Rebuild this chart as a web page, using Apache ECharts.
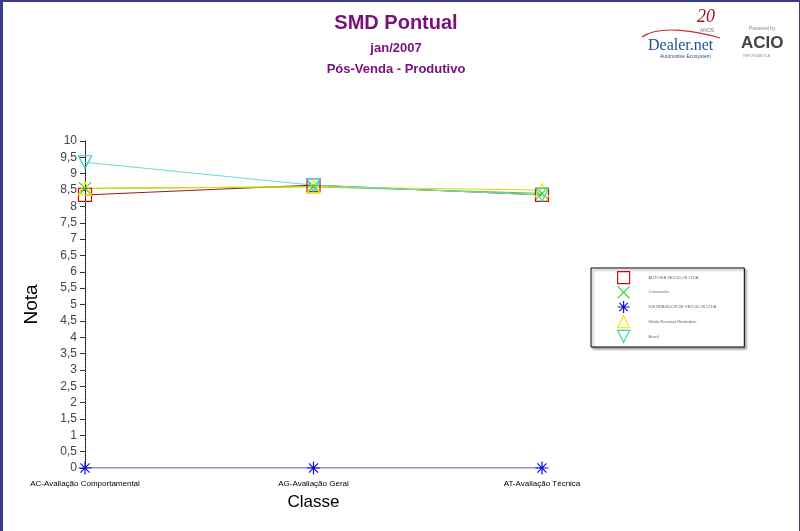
<!DOCTYPE html>
<html><head><meta charset="utf-8">
<script src="https://cdn.jsdelivr.net/npm/echarts@6/dist/echarts.min.js"></script>
<style>
html,body{margin:0;padding:0;background:#fff;}
#c{position:absolute;left:0;top:0;width:796px;height:529px;border-left:3px solid #3c3c8c;border-top:2px solid #3c3c8c;border-right:1px solid #3c3c8c;}
</style></head><body><div id="c"></div>
<script>
const categories = ['AC-Avaliação Comportamental', 'AG-Avaliação Geral', 'AT-Avaliação Técnica'];
const seriesNames = ['AUTOVIA VEÍCULOS LTDA', 'Concessão', 'DISTRIBUIDOR DE VEÍCULOS LTDA', 'Média Nacional Montadora', 'Brasil'];
const redValues = [8.35, 8.65, 8.35];
const greenValues = [8.55, 8.6, 8.4];
const blueValues = [0, 0, 0];
const yellowValues = [8.55, 8.6, 8.5];
const cyanValues = [9.35, 8.65, 8.35];

const chart = echarts.init(document.getElementById('c'), null, {renderer: 'canvas'});
const P_X = 'path://M0,0L10,10M10,0L0,10';
const P_STAR = 'path://M5,0L5,10M0,5L10,5M1.5,1.5L8.5,8.5M8.5,1.5L1.5,8.5';
const P_TRI = 'path://M5,0L10,10L0,10Z';
const P_ITRI = 'path://M0,0L10,0L5,10Z';
const symbols = ['rect', P_X, P_STAR, P_TRI, P_ITRI];
const markColors = ['#c01010', '#33cc33', '#1010dd', '#eeee00', '#33cccc'];
function mk(i, data, lineColor, size){
  return {name:seriesNames[i], type:'line', data, symbol:symbols[i], symbolSize:size, showSymbol:true,
    lineStyle:{color:lineColor, width:1}, itemStyle:{color:'rgba(0,0,0,0)', borderColor:markColors[i], borderWidth:1.2},
    emphasis:{disabled:true}, animation:false};
}
chart.setOption({
  backgroundColor:'#fff',
  animation:false,
  title:[
    {text:'SMD Pontual', left:388, top:6, textAlign:'center', textStyle:{color:'#7b0f7b', fontSize:20, fontWeight:'bold', fontFamily:'Liberation Sans, Arial'}},
    {text:'jan/2007', left:388, top:35, textAlign:'center', textStyle:{color:'#7b0f7b', fontSize:13, fontWeight:'bold', fontFamily:'Liberation Sans, Arial'}},
    {text:'Pós-Venda - Produtivo', left:388, top:56, textAlign:'center', textStyle:{color:'#7b0f7b', fontSize:13, fontWeight:'bold', fontFamily:'Liberation Sans, Arial'}}
  ],
  legend:{
    orient:'vertical', left:588, top:266,
    padding:[3,28,4,26], itemGap:1.5, itemWidth:12, itemHeight:12,
    backgroundColor:'#fff', borderColor:'#000', borderWidth:1,
    shadowColor:'rgba(0,0,0,0.35)', shadowOffsetX:2, shadowOffsetY:2, shadowBlur:2,
    textStyle:{fontSize:4, color:'#666', padding:[0,0,0,14], fontFamily:'Liberation Sans, Arial'},
    data: seriesNames.map((n,i)=>({name:n, icon:symbols[i], itemStyle:{color:'rgba(0,0,0,0)', borderColor:markColors[i], borderWidth:1.2}})),
    selectedMode:false
  },
  grid:{left:82, right:257, top:139, bottom:63, containLabel:false},
  xAxis:{
    type:'category', data:categories, boundaryGap:false,
    name:'Classe', nameLocation:'middle', nameGap:26,
    nameTextStyle:{fontSize:17, color:'#000', fontFamily:'Liberation Sans, Arial'},
    axisLine:{show:false}, axisTick:{show:false},
    axisLabel:{fontSize:8, color:'#000', margin:12, fontFamily:'Liberation Sans, Arial', interval:0},
    splitLine:{show:false}
  },
  yAxis:{
    type:'value', min:0, max:10, interval:0.5,
    name:'Nota', nameLocation:'middle', nameGap:44, nameRotate:90,
    nameTextStyle:{fontSize:19, color:'#000', fontFamily:'Liberation Sans, Arial'},
    axisLine:{show:true, lineStyle:{color:'#000', type:'dotted', width:1}},
    axisTick:{show:true, inside:false, length:5, lineStyle:{color:'#333'}},
    axisLabel:{fontSize:12, color:'#444', margin:8, fontFamily:'Liberation Sans, Arial',
      formatter:v=>String(v).replace('.',',')},
    splitLine:{show:false}
  },
  series:[
    mk(0, redValues, '#9a1a1a', 13),
    mk(1, greenValues, '#55cc22', 12),
    mk(2, blueValues, '#2020b0', 13),
    mk(3, yellowValues, '#dddd00', 13),
    mk(4, cyanValues, '#66dddd', 13)
  ],
  graphic:[
    {type:'text', left:645, top:36, style:{text:'Dealer.net', fill:'#1f4e9a', font:'16px "Liberation Serif", serif'}},
    {type:'text', left:657, top:52, style:{text:'Automotive Ecosystem', fill:'#1f4e9a', font:'5px "Liberation Sans", sans-serif'}},
    {type:'text', left:694, top:6, style:{text:'20', fill:'#9a1a2a', font:'italic 18px "Liberation Serif", serif'}},
    {type:'text', left:697, top:26, style:{text:'ANOS', fill:'#777', font:'5px "Liberation Sans", sans-serif'}},
    {type:'bezierCurve', shape:{x1:639, y1:35, x2:717, y2:36, cpx1:657, cpy1:22, cpx2:697, cpy2:30}, style:{stroke:'#c0303a', lineWidth:1.2, fill:null}},
    {type:'text', left:746, top:24, style:{text:'Powered by', fill:'#888', font:'5px "Liberation Sans", sans-serif'}},
    {type:'text', left:738, top:33, style:{text:'ACIO', fill:'#444', font:'bold 17px "Liberation Sans", sans-serif'}},
    {type:'text', left:740, top:52, style:{text:'INFORMATICA', fill:'#999', font:'4px "Liberation Sans", sans-serif'}}
  ]
});
</script></body></html>
